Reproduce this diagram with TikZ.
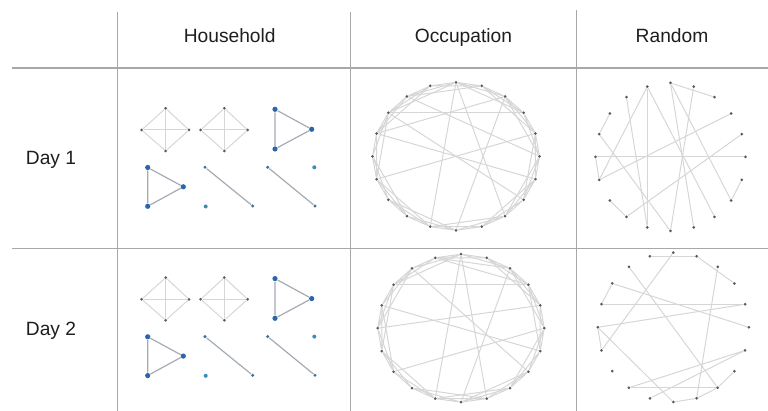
\documentclass[tikz,border=0pt]{standalone}
\usepackage{fontspec}
\setmainfont{Liberation Sans}
\usepackage{tikz}
\usetikzlibrary{positioning}
\definecolor{rulegray}{HTML}{A8A8A8}
\definecolor{linkgray}{HTML}{D6D6D6}
\definecolor{dotgray}{HTML}{5A5A5A}
\definecolor{hhblue}{HTML}{2C65A8}
\definecolor{lonecyan}{HTML}{3A8CB4}
\definecolor{trigray}{HTML}{A4ABB4}
\definecolor{inkgray}{HTML}{1E1E1E}

\begin{document}
\begin{tikzpicture}[x=0.5pt, y=-0.5pt,
      head/.style={font=\fontsize{9.6}{11}\selectfont, text=inkgray, inner sep=0, anchor=base},
      rule/.style={draw=rulegray, line width=0.8pt},
      dot/.style={circle, fill=dotgray, inner sep=0, minimum size=1.5pt},
      hub/.style={circle, fill=hhblue, inner sep=0, minimum size=2.6pt},
      lone/.style={circle, fill=lonecyan, inner sep=0, minimum size=2pt},
      pend/.style={circle, fill=hhblue!70!gray, inner sep=0, minimum size=1.7pt},
      link/.style={draw=linkgray, line width=0.5pt},
      trilink/.style={draw=trigray, line width=0.6pt}]

    \useasboundingbox (0,0) rectangle (768,411);

    % ── Grille du tableau ──
    \draw[rule] (12,68.3) -- (768,68.3);
    \draw[rule] (12,248.5) -- (768,248.5);
    \draw[rule] (117.5,12) -- (117.5,411);
    \draw[rule] (350.5,12) -- (350.5,411);
    \draw[rule] (576.5,10) -- (576.5,411);

    % ── En-têtes ──
    \node[head] (hh) at (229.7,42.7) {Household};
    \node[head] (occ) at (463.5,42.7) {Occupation};
    \node[head] (rnd) at (672,42.7) {Random};
    \node[head] (day1) at (51,165) {Day 1};
    \node[head] (day2) at (51,336) {Day 2};

    % ── Household (les deux jours) ──
    \foreach \d/\oy in {1/0, 2/169.3} {
      \node[dot] (ka\d t) at (165.7,108.3+\oy) {};
      \node[dot] (ka\d l) at (141.7,130+\oy) {};
      \node[dot] (ka\d r) at (189,130+\oy) {};
      \node[dot] (ka\d b) at (165.7,151+\oy) {};
      \node[dot] (kb\d t) at (224.3,108.3+\oy) {};
      \node[dot] (kb\d l) at (200.7,130+\oy) {};
      \node[dot] (kb\d r) at (247.7,130+\oy) {};
      \node[dot] (kb\d b) at (224.3,151+\oy) {};
      \node[hub] (ta\d a) at (275,109.3+\oy) {};
      \node[hub] (ta\d b) at (311.7,129.3+\oy) {};
      \node[hub] (ta\d c) at (275,149+\oy) {};
      \node[hub] (tb\d a) at (147.7,167.5+\oy) {};
      \node[hub] (tb\d b) at (183.3,186.8+\oy) {};
      \node[hub] (tb\d c) at (147.7,206.3+\oy) {};
      \node[pend] (pa\d a) at (205,167.3+\oy) {};
      \node[pend] (pa\d b) at (252.7,206+\oy) {};
      \node[lone] (sa\d) at (205.7,206.5+\oy) {};
      \node[pend] (pb\d a) at (267.7,167.3+\oy) {};
      \node[pend] (pb\d b) at (315,206+\oy) {};
      \node[lone] (sb\d) at (314.3,167.3+\oy) {};

      \draw[link] (ka\d t) -- (ka\d r) -- (ka\d b) -- (ka\d l) -- (ka\d t);
      \draw[link] (ka\d t) -- (ka\d b) (ka\d l) -- (ka\d r);
      \draw[link] (kb\d t) -- (kb\d r) -- (kb\d b) -- (kb\d l) -- (kb\d t);
      \draw[link] (kb\d t) -- (kb\d b) (kb\d l) -- (kb\d r);
      \draw[trilink] (ta\d a) -- (ta\d b) -- (ta\d c) -- (ta\d a);
      \draw[trilink] (tb\d a) -- (tb\d b) -- (tb\d c) -- (tb\d a);
      \draw[trilink] (pa\d a) -- (pa\d b);
      \draw[trilink] (pb\d a) -- (pb\d b);
    }

    % ── Occupation ──
    \foreach \i in {0,...,19} {
      \node[dot] (oa\i) at ({456+83.5*sin(18*\i)},{156.3-74*cos(18*\i)}) {};
      \node[dot] (ob\i) at ({461+83.3*sin(18*\i)},{328.2-74*cos(18*\i)}) {};
    }
    \foreach \i in {0,...,19} {
      \pgfmathtruncatemacro\j{mod(\i+1,20)}
      \pgfmathtruncatemacro\k{mod(\i+2,20)}
      \draw[link] (oa\i) -- (oa\j) (oa\i) -- (oa\k);
      \draw[link] (ob\i) -- (ob\j) (ob\i) -- (ob\k);
    }
    \foreach \i in {0,1,2,4,5,6,8,10,11,12,14,16,17,18} {
      \pgfmathtruncatemacro\m{mod(\i+3,20)}
      \draw[link] (oa\i) -- (oa\m);
    }
    \foreach \i in {1,2,3,5,7,8,9,11,13,14,15,17,19} {
      \pgfmathtruncatemacro\m{mod(\i+3,20)}
      \draw[link] (ob\i) -- (ob\m);
    }
    \foreach \a/\b in {17/3, 16/2, 16/6, 14/4, 0/11, 0/8, 2/10, 17/7, 18/5}
      \draw[link] (oa\a) -- (oa\b);
    \foreach \a/\b in {17/3, 15/4, 16/6, 0/11, 2/10, 18/7, 13/5, 0/9, 19/3}
      \draw[link] (ob\a) -- (ob\b);

    % ── Random ──
    \foreach \i in {0,...,19} {
      \node[dot] (ra\i) at ({670.5+75*sin(18*\i)},{157-74*cos(18*\i)}) {};
      \node[dot] (rb\i) at ({673.3+75.5*sin(18*\i)},{327.3-74.7*cos(18*\i)}) {};
    }
    \foreach \a/\b in {0/2, 19/11, 19/14, 19/8, 18/11, 17/16, 16/10, 15/5,
                       15/14, 14/3, 13/12, 12/4, 0/9, 0/7, 1/10, 6/7}
      \draw[link] (ra\a) -- (ra\b);
    \foreach \a/\b in {19/1, 0/14, 1/3, 2/9, 18/8, 17/16, 17/5, 16/4, 15/4,
                       15/14, 15/10, 12/8, 11/6, 12/6, 8/7, 9/8, 10/9}
      \draw[link] (rb\a) -- (rb\b);

  \end{tikzpicture}
\end{document}
